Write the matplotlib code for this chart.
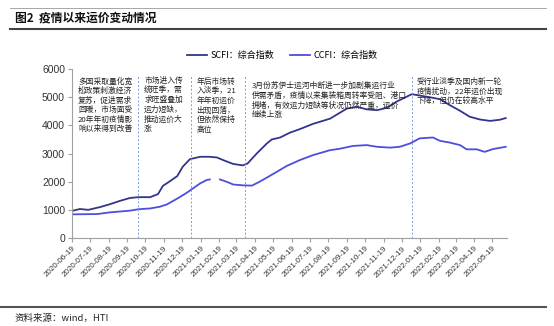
import matplotlib
matplotlib.use("Agg")
import matplotlib.pyplot as plt
import numpy as np
import pandas as pd

plt.rcParams['font.family'] = ['Noto Sans CJK SC', 'DejaVu Sans']

# SCFI composite index
scfi_dates = ["2020-06-19", "2020-07-02", "2020-07-16", "2020-08-05", "2020-08-21",
              "2020-09-07", "2020-09-23", "2020-10-07", "2020-10-27", "2020-11-09",
              "2020-11-17", "2020-11-29", "2020-12-11", "2020-12-20", "2021-01-01",
              "2021-01-18", "2021-02-03", "2021-02-15", "2021-02-25", "2021-03-14",
              "2021-03-30", "2021-04-07", "2021-04-22", "2021-05-09", "2021-05-17",
              "2021-05-31", "2021-06-16", "2021-07-03", "2021-07-24", "2021-08-22",
              "2021-09-19", "2021-10-06", "2021-10-22", "2021-11-08", "2021-11-25",
              "2021-12-11", "2022-01-05", "2022-01-18", "2022-02-04", "2022-02-21",
              "2022-03-09", "2022-03-26", "2022-04-11", "2022-04-28", "2022-05-15",
              "2022-05-31", "2022-06-10"]
scfi_values = [960, 1030, 1000, 1100, 1200, 1320, 1420, 1450, 1450, 1560,
               1850, 2020, 2200, 2530, 2800, 2885, 2885, 2860, 2770, 2630,
               2580, 2650, 3000, 3360, 3500, 3570, 3740, 3870, 4050, 4240,
               4600, 4660, 4570, 4540, 4630, 4850, 5110, 5060, 5000, 4930,
               4720, 4520, 4310, 4210, 4160, 4200, 4260]

# CCFI composite index (no release around the 2021 Spring Festival)
ccfi_dates = ["2020-06-19", "2020-07-31", "2020-08-21", "2020-09-23", "2020-10-07",
              "2020-10-27", "2020-11-12", "2020-11-24", "2020-12-11", "2020-12-27",
              "2021-01-18", "2021-01-29", "2021-02-03", "2021-02-10", "2021-02-20",
              "2021-03-04", "2021-03-14", "2021-03-30", "2021-04-14", "2021-04-27",
              "2021-05-19", "2021-06-11", "2021-07-03", "2021-07-24", "2021-08-22",
              "2021-09-07", "2021-09-29", "2021-10-22", "2021-11-08", "2021-11-30",
              "2021-12-16", "2022-01-02", "2022-01-18", "2022-02-09", "2022-02-21",
              "2022-03-09", "2022-03-26", "2022-04-06", "2022-04-23", "2022-05-06",
              "2022-05-20", "2022-06-10"]
ccfi_values = [840, 850, 910, 970, 1020, 1050, 1110, 1195, 1400, 1610,
               1940, 2060, 2080, np.nan, 2080, 1990, 1900, 1870, 1860, 2000,
               2270, 2560, 2770, 2940, 3120, 3170, 3270, 3300, 3240, 3210,
               3240, 3360, 3540, 3570, 3450, 3390, 3300, 3150, 3150, 3060,
               3160, 3240]

phase_dates = ["2020-10-07", "2021-01-03", "2021-04-03", "2022-01-05"]
phase_notes = [
    "多国采取量化宽\n松政策刺激经济\n复苏，促进需求\n回暖，市场面受\n20年年初疫情影\n响以来得到改善",
    "市场进入传\n统旺季，需\n求旺盛叠加\n运力短缺，\n推动运价大\n涨",
    "年后市场转\n入淡季，21\n年年初运价\n出现回落，\n但依然保持\n高位",
    "3月份苏伊士运河中断进一步加剧集运行业\n供需矛盾，疫情以来集装箱周转率受阻、港口\n拥堵，有效运力短缺等状况仍然严重，运价\n继续上涨",
    "受行业淡季及国内新一轮\n疫情扰动，22年运价出现\n下降，但仍在较高水平",
]
note_x = ["2020-06-29", "2020-10-17", "2021-01-12", "2021-04-14", "2022-01-13"]
note_y = [5720, 5720, 5700, 5540, 5700]

scfi = pd.Series(scfi_values, index=pd.to_datetime(scfi_dates))
ccfi = pd.Series(ccfi_values, index=pd.to_datetime(ccfi_dates))

fig = plt.figure(figsize=(5.54, 3.26), dpi=100)
ax = fig.add_axes([0.130, 0.270, 0.785, 0.518])

ax.plot(scfi.index, scfi.values, color="#34348e", lw=1.3, label="SCFI：综合指数")
ax.plot(ccfi.index, ccfi.values, color="#4d4de0", lw=1.3, label="CCFI：综合指数")

for d in phase_dates:
    ax.plot([pd.Timestamp(d)] * 2, [0, 5750], ls=(0, (2, 2)), color="#7b9be0", lw=0.7)

for x, y, s in zip(note_x, note_y, phase_notes):
    ax.text(pd.Timestamp(x), y, s, fontsize=5.6, va="top", ha="left",
            color="#222222", linespacing=1.25)

ax.set_ylim(0, 6000)
ax.set_yticks(range(0, 6001, 1000))
ax.set_xlim(pd.Timestamp("2020-06-19"), pd.Timestamp("2022-06-12"))
# monthly ticks on the 19th
ticks = pd.date_range("2020-06-01", "2022-05-01", freq="MS") + pd.Timedelta(days=18)
ax.set_xticks(ticks)
ax.set_xticklabels([t.strftime("%Y-%m-%d") for t in ticks], rotation=45,
                   ha="right", rotation_mode="anchor", fontsize=5.8,
                   family="Liberation Sans", color="#333333")
for lab in ax.get_yticklabels():
    lab.set_family("Liberation Sans")
    lab.set_fontsize(7.5)
    lab.set_color("#333333")

for side in ["top", "right"]:
    ax.spines[side].set_visible(False)
for side in ["left", "bottom"]:
    ax.spines[side].set_color("#a0a0a0")
    ax.spines[side].set_linewidth(0.8)
ax.tick_params(axis="both", color="#a0a0a0", length=3, width=0.8, pad=2)

fig.legend(loc="center", bbox_to_anchor=(0.51, 0.83), ncol=2, frameon=False,
           fontsize=6.5, handlelength=2.2, columnspacing=1.8, handletextpad=0.4)

# header and footer rules
fig.add_artist(plt.Line2D([0.018, 0.985], [0.975, 0.975], color="#999999", lw=0.6))
fig.add_artist(plt.Line2D([0.018, 0.985], [0.911, 0.911], color="#444444", lw=1.5))
fig.text(0.027, 0.945, "图2  疫情以来运价变动情况", fontsize=8.5, weight="bold",
         va="center", ha="left", color="#111111")
fig.add_artist(plt.Line2D([0.0, 0.985], [0.058, 0.058], color="#555555", lw=1.5))
fig.text(0.027, 0.025, "资料来源：wind，HTI", fontsize=6.8, va="center", ha="left",
         color="#222222")

fig.savefig("out.png", dpi=100)
